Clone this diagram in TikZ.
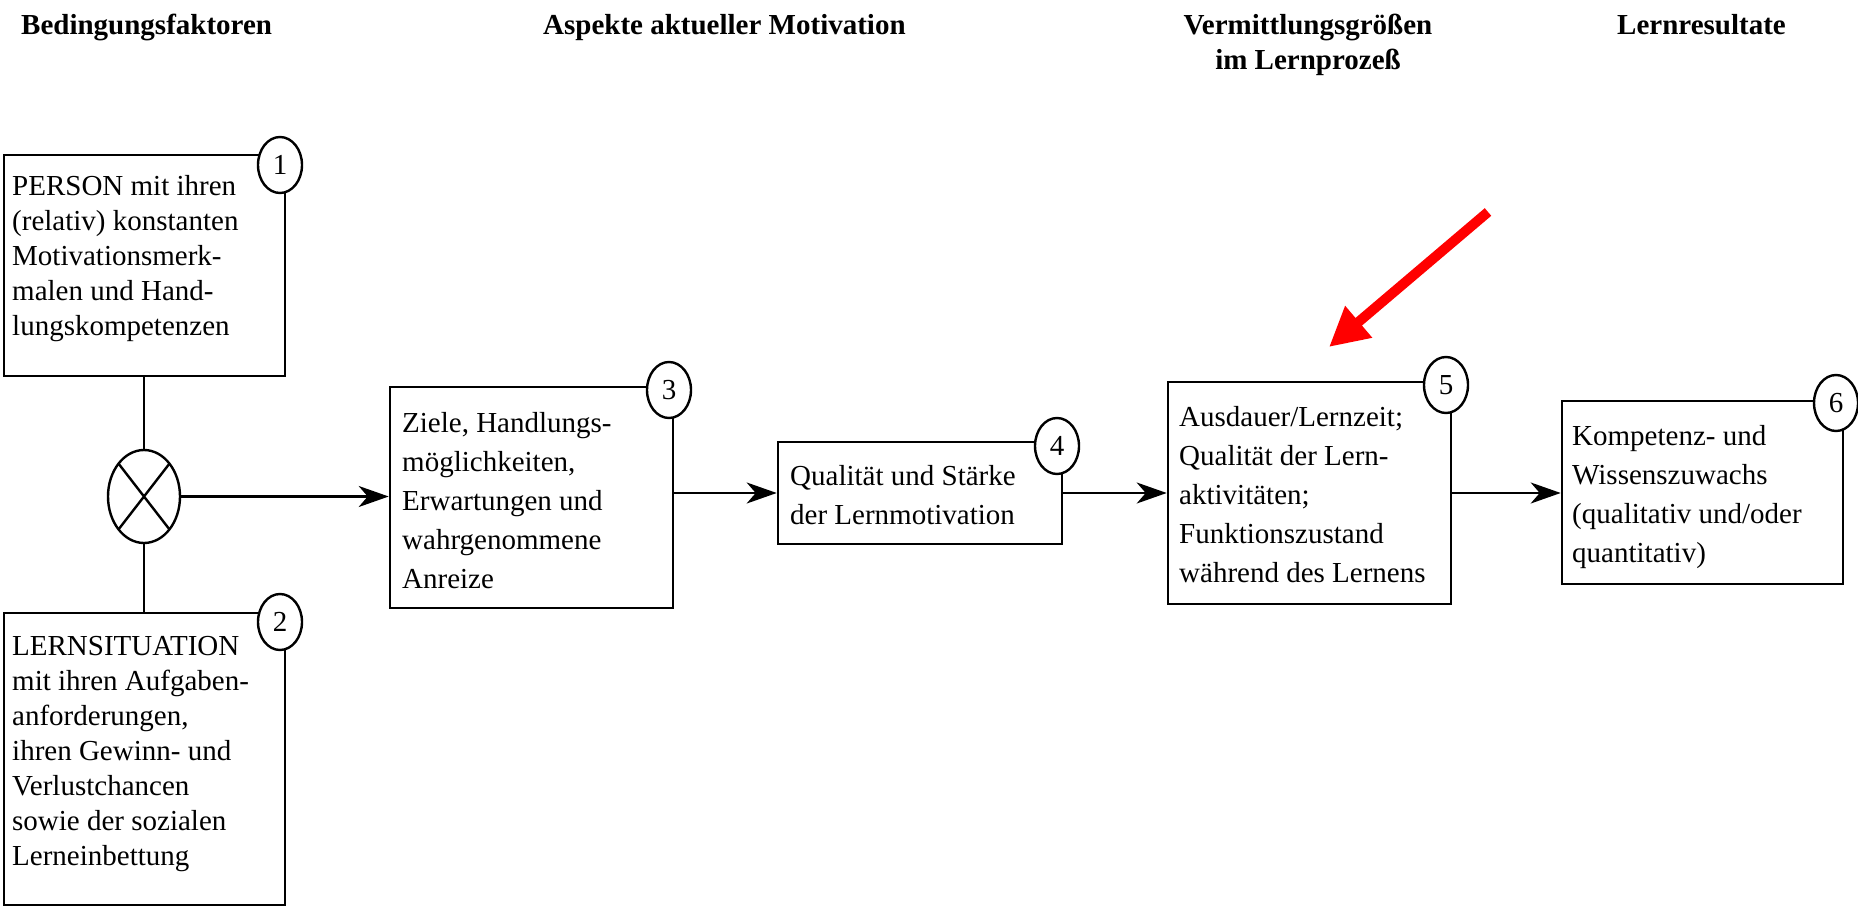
\documentclass[tikz,border=0pt]{standalone}
\usepackage{fontspec}
\setmainfont{Liberation Serif}
\usetikzlibrary{arrows.meta,shapes.geometric}
\begin{document}
\begin{tikzpicture}[x=1pt,y=-1pt,
  box/.style={draw, line width=2.6pt, rectangle, inner sep=0pt},
  num/.style={draw, fill=white, line width=2.4pt, ellipse, inner sep=0pt,
    minimum width=44pt, minimum height=56pt, font=\fontsize{29}{35}\selectfont},
  txtA/.style={anchor=base west, align=left, inner sep=0pt, font=\fontsize{29}{35}\selectfont},
  txtB/.style={anchor=base west, align=left, inner sep=0pt, font=\fontsize{29}{39}\selectfont},
  head/.style={inner sep=0pt, font=\fontsize{29}{35}\selectfont\bfseries},
  conn/.style={line width=2.4pt},
  arr/.style={conn, -{Stealth[length=30pt,width=21pt,inset=9pt]}},
  redarr/.style={draw=red, line width=10pt, -{Triangle[length=39pt,width=39pt]}},
]
\fill[white] (0,0) rectangle (1858,909);
\useasboundingbox (0,0) rectangle (1858,909);

% headers (base anchor = baseline of last line)
\node[head, anchor=base west] (h1) at (21,35) {Bedingungsfaktoren};
\node[head, anchor=base west] (h2) at (543,35) {Aspekte aktueller Motivation};
\node[head, anchor=base, align=center] (h3) at (1308,70) {Vermittlungsgrößen\\im Lernprozeß};
\node[head, anchor=base west] (h4) at (1617,35) {Lernresultate};

% boxes
\node[box, minimum width=281pt, minimum height=221pt] (b1) at (144.5,265.5) {};
\node[box, minimum width=281pt, minimum height=292pt] (b2) at (144.5,759) {};
\node[box, minimum width=283pt, minimum height=221pt] (b3) at (531.5,497.5) {};
\node[box, minimum width=284pt, minimum height=102pt] (b4) at (920,493) {};
\node[box, minimum width=283pt, minimum height=222pt] (b5) at (1309.5,493) {};
\node[box, minimum width=281pt, minimum height=183pt] (b6) at (1702.5,492.5) {};

% combination ellipse
\node[draw, ellipse, line width=2.4pt, inner sep=0pt, minimum width=72pt, minimum height=93pt,
  path picture={\draw[line width=2.4pt]
    (path picture bounding box.north west) -- (path picture bounding box.south east)
    (path picture bounding box.south west) -- (path picture bounding box.north east);}]
  (ell) at (144,496.5) {};

% connectors
\draw[conn] (ell.north |- b1.south) -- (ell.north);
\draw[conn] (ell.south) -- (ell.south |- b2.north);
\draw[arr] (ell.east) -- (ell.east -| b3.west);
\draw[arr] (b3.east |- b4.west) -- (b4.west);
\draw[arr] (b4.east) -- (b5.west);
\draw[arr] (b5.east) -- (b5.east -| b6.west);

% number circles
\node[num] (c1) at (280,165) {1};
\node[num] (c2) at (280,622) {2};
\node[num] (c3) at (669,390) {3};
\node[num] (c4) at (1057,446) {4};
\node[num] (c5) at (1446,385) {5};
\node[num] (c6) at (1836,403) {6};

% texts (positioned at baseline of last line)
\node[txtA] (t1) at (12,335) {PERSON mit ihren\\(relativ) konstanten\\Motivationsmerk-\\malen und Hand-\\lungskompetenzen};
\node[txtA] (t2) at (12,865) {LERNSITUATION\\mit ihren Aufgaben-\\anforderungen,\\ihren Gewinn- und\\Verlustchancen\\sowie der sozialen\\Lerneinbettung};
\node[txtB] (t3) at (402,588) {Ziele, Handlungs-\\möglichkeiten,\\Erwartungen und\\wahrgenommene\\Anreize};
\node[txtB] (t4) at (790,524) {Qualität und Stärke\\der Lernmotivation};
\node[txtB] (t5) at (1179,582) {Ausdauer/Lernzeit;\\Qualität der Lern-\\aktivitäten;\\Funktionszustand\\während des Lernens};
\node[txtB] (t6) at (1572,562) {Kompetenz- und\\Wissenszuwachs\\(qualitativ und/oder\\quantitativ)};

% red annotation arrow
\coordinate (rtail) at (1488,212);
\coordinate (rtip) at (1329,347);
\draw[redarr] (rtail) -- (rtip);
\end{tikzpicture}
\end{document}
